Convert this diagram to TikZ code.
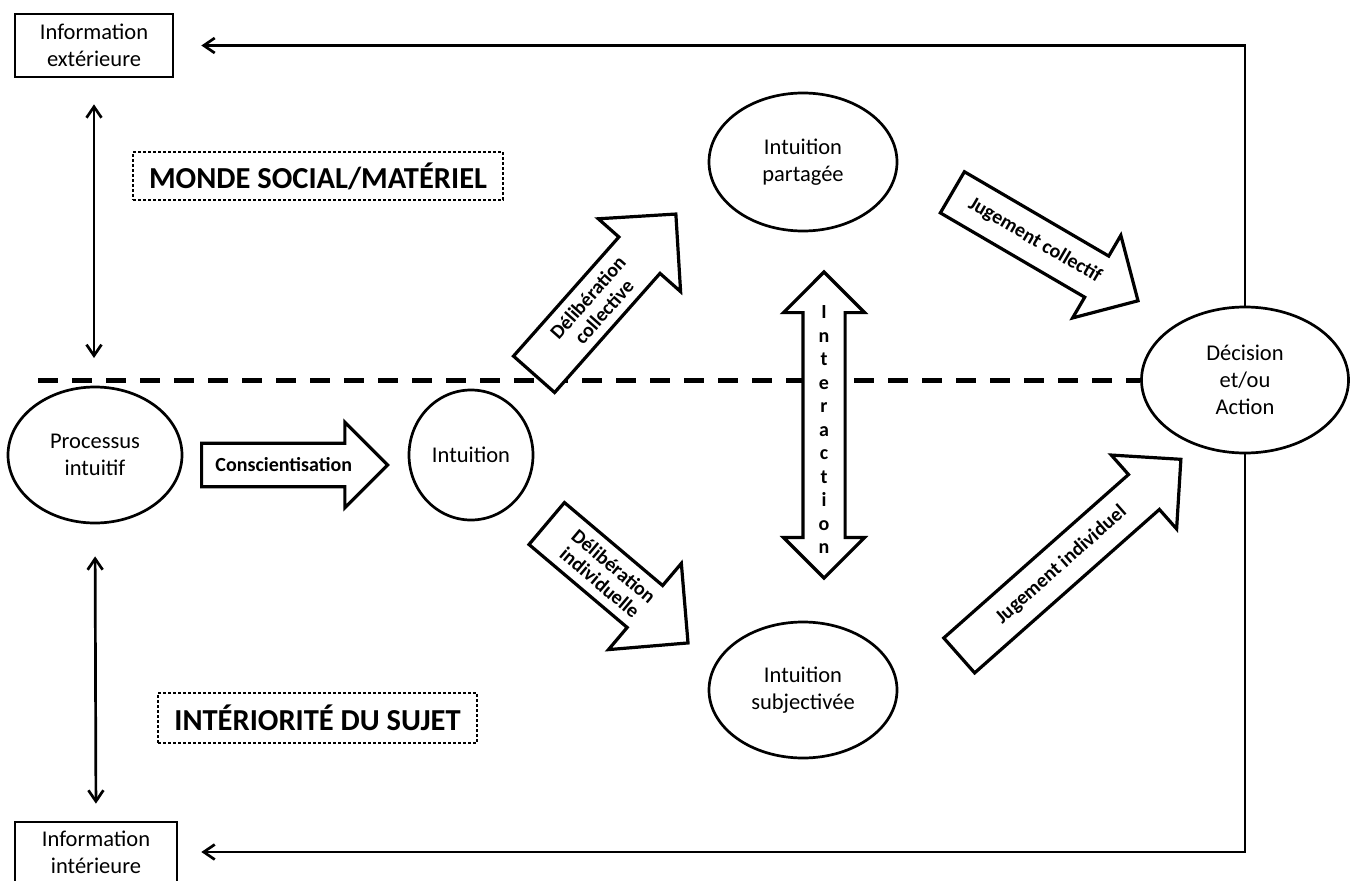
\documentclass[tikz,border=0pt]{standalone}
\usepackage{fontspec}
\setmainfont{Carlito}
\usepackage{tikz}
\usetikzlibrary{arrows.meta,positioning,shapes,calc}

\newcommand{\bodyfont}{\fontsize{22.5}{27}\selectfont}
\newcommand{\labelfont}{\bfseries\fontsize{20}{21.5}\selectfont}
\newcommand{\zonefont}{\bfseries\fontsize{30.5}{36}\selectfont}

\begin{document}
\begin{tikzpicture}[x=1pt,y=-1pt,
    infobox/.style={draw,line width=2.7pt,inner sep=0pt,align=center,font=\bodyfont},
    bubble/.style={draw,ellipse,line width=2.7pt,fill=white,inner sep=0pt,align=center,font=\bodyfont},
    zone/.style={draw,line width=2.6pt,dash pattern=on 2.6pt off 2.4pt,inner sep=0pt,font=\zonefont},
    blockarrow/.style={single arrow,draw,line width=3.2pt,fill=white,anchor=tail,align=center,font=\labelfont,inner xsep=2pt},
    link/.style={line width=2.7pt,-{Straight Barb[length=11pt,width=15pt,line width=2.7pt]}},
    twoway/.style={line width=2.7pt,{Straight Barb[length=11pt,width=15pt,line width=2.7pt]}-{Straight Barb[length=11pt,width=15pt,line width=2.7pt]}}]

    \useasboundingbox (0,0) rectangle (1358,881);

    \node[infobox,minimum width=158pt,minimum height=63pt] (infoext) at (94,45.5) {Information\\extérieure};
    \node[infobox,minimum width=162pt,minimum height=60pt] (infoint) at (96,852) {Information\\intérieure};

    \node[zone,minimum width=370pt,minimum height=48pt] (monde) at (318,176) {MONDE SOCIAL/MATÉRIEL};
    \node[zone,minimum width=319pt,minimum height=50pt] (interieur) at (317.5,718) {INTÉRIORITÉ DU SUJET};

    \node[bubble,minimum width=174pt,minimum height=136pt] (proc) at (95,455) {Processus\\intuitif};
    \node[bubble,minimum width=124pt,minimum height=130pt] (intu) at (471,455) {Intuition};
    \node[bubble,minimum width=188pt,minimum height=138pt] (partagee) at (803,162) {Intuition\\partagée};
    \node[bubble,minimum width=188pt,minimum height=136pt] (subj) at (803,690) {Intuition\\subjectivée};
    \node[bubble,minimum width=207pt,minimum height=146pt] (deci) at (1245,380) {Décision\\et/ou\\Action};

    \coordinate (dl) at (38,380);
    \draw[line width=5pt,dash pattern=on 20pt off 14pt] (dl) -- (deci.west);

    \draw[link,shorten >=27pt] (deci.north) |- (infoext.east);
    \draw[link,shorten >=23pt] (deci.south) |- (infoint.east);
    \draw[twoway,shorten <=26pt,shorten >=22pt] (infoext.south) -- (infoext.south |- dl);
    \draw[twoway,shorten <=32pt,shorten >=17pt] (proc.south) -- (infoint.north);

    \node[blockarrow,minimum height=186pt,inner ysep=13pt,single arrow head extend=21pt] (consc) at (200,465) {Conscientisation};
    \node[blockarrow,rotate=48.5,minimum height=214pt,inner ysep=8pt,single arrow head extend=27.5pt] (delibcol) at (533,375.5) {Délibération\\collective};
    \node[blockarrow,rotate=-40.2,minimum height=185pt,inner ysep=8pt,single arrow head extend=29pt] (delibind) at (545.5,522.5) {Délibération\\individuelle};
    \node[blockarrow,rotate=-30.3,minimum height=215pt,inner ysep=13.5pt,single arrow head extend=24pt] (jugcol) at (951,191.5) {Jugement collectif};
    \node[blockarrow,rotate=41.5,minimum height=296pt,inner ysep=13pt,single arrow head extend=26pt] (jugind) at (958,656.5) {Jugement individuel};

    \node[double arrow,draw,line width=3.2pt,fill=white,rotate=90,minimum height=306pt,inner xsep=0pt,inner ysep=19.5pt,double arrow head extend=19.5pt] (interact) at (824,425) {};
    \node[align=center,inner sep=0pt,font={\bfseries\fontsize{20}{23.5}\selectfont}] (interlbl) at ($(interact.center)+(0,5)$) {I\\n\\t\\e\\r\\a\\c\\t\\i\\o\\n};
\end{tikzpicture}
\end{document}
